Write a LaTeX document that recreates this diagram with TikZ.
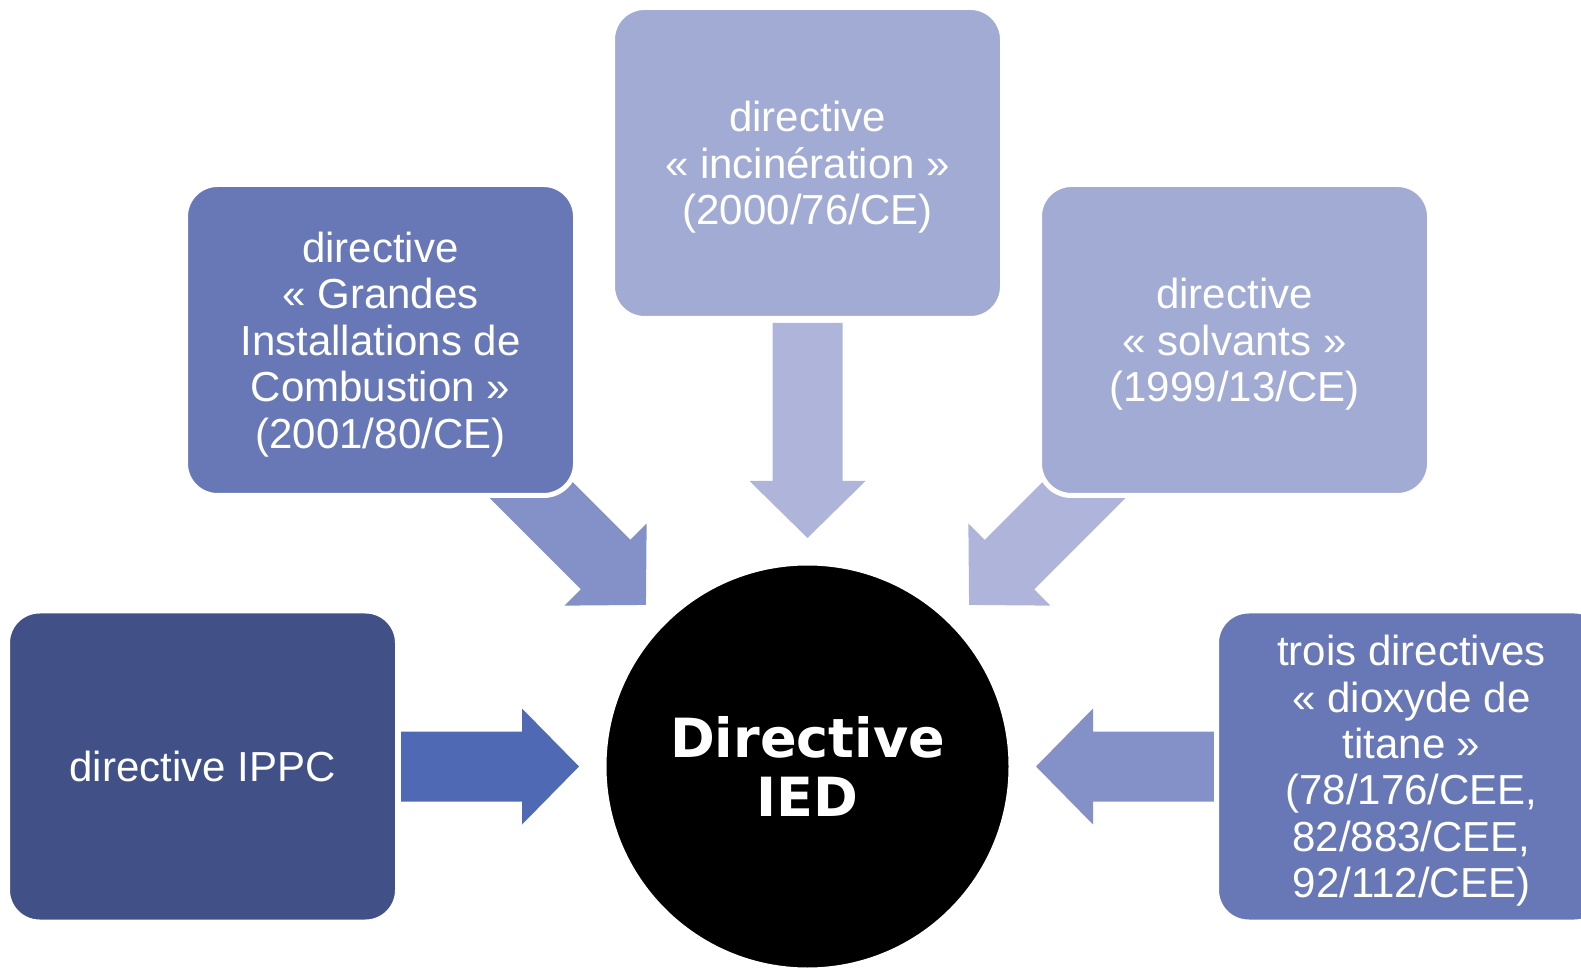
\documentclass[tikz,border=0pt]{standalone}
\usepackage{fontspec}
\setmainfont{Liberation Sans}
\newfontfamily\iedfont{DejaVu Sans}
\usetikzlibrary{%
  positioning
 ,calc
 ,shapes
}
\definecolor{ippcblue}{RGB}{65,81,136}
\definecolor{midblue}{RGB}{104,120,183}
\definecolor{paleblue}{RGB}{161,171,211}
\definecolor{arrdark}{RGB}{80,105,180}
\definecolor{arrmid}{RGB}{132,144,200}
\definecolor{arrpale}{RGB}{174,180,218}
\pgfdeclarelayer{background}
\pgfsetlayers{background,main}
\tikzstyle{dir}=[rectangle,rounded corners=32pt,draw=white,line width=5pt,text=white,align=center,
  minimum width=390pt,minimum height=311pt,text depth=0pt,font=\fontsize{42}{46.4}\selectfont]
\tikzstyle{core}=[circle,fill=black,draw=white,line width=3pt,minimum size=405pt,text=white,align=center,
  font=\iedfont\bfseries\fontsize{54}{58.5}\selectfont]
% block arrow: colour, tail, tip
\newcommand\bigarrow[3]{%
  \coordinate (h) at ($(#3)!57pt!(#2)$);
  \fill[#1] ($(#2)!35pt!90:(#3)$) -- ($(h)!35pt!90:(#3)$) -- ($(h)!58pt!90:(#3)$) -- (#3)
    -- ($(h)!58pt!-90:(#3)$) -- ($(h)!35pt!-90:(#3)$) -- ($(#2)!35pt!-90:(#3)$) -- cycle;
}

\begin{document}
\begin{tikzpicture}[x=1pt,y=1pt,on grid]
  \path[use as bounding box,clip] (0,0) rectangle (1581,967);
  \node[core] (ied) at (807.5,200.5) {Directive\\IED};
  \node[dir,fill=ippcblue] (ippc) [left=605pt of ied] {directive IPPC};
  \node[dir,fill=midblue]  (gic)  [above left=426.5pt and 427pt of ied]
    {directive\\« Grandes\\Installations de\\Combustion »\\(2001/80/CE)};
  \node[dir,fill=paleblue] (inc)  [above=603.5pt of ied]
    {directive\\« incinération »\\(2000/76/CE)};
  \node[dir,fill=paleblue] (cov)  [above right=426.5pt and 427pt of ied]
    {directive\\« solvants »\\(1999/13/CE)};
  \node[dir,fill=midblue]  (tio)  [right=604pt of ied]
    {trois directives\\« dioxyde de\\titane »\\(78/176/CEE,\\82/883/CEE,\\92/112/CEE)};
%
  \begin{pgfonlayer}{background}
    \foreach \a/\l/\c in {180/406.5/arrdark,135/443.5/arrmid,90/443.5/arrpale,45/443.5/arrpale,0/406.5/arrmid}
    {
      \coordinate (s) at ($(ied)+(\a:\l)$);
      \coordinate (e) at ($(ied)+(\a:228.5)$);
      \bigarrow{\c}{s}{e}
    }
  \end{pgfonlayer}
\end{tikzpicture}
\end{document}
